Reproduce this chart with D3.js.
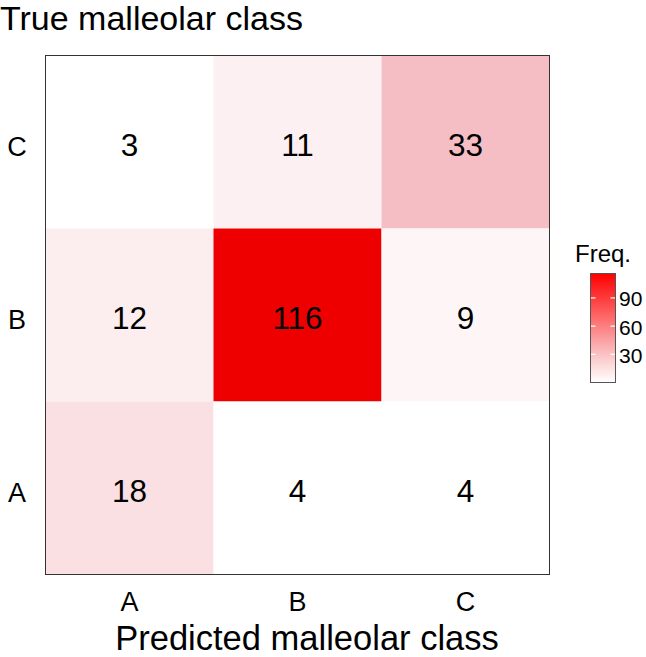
<!DOCTYPE html>
<html>
<head>
<meta charset="utf-8">
<script src="https://cdn.jsdelivr.net/npm/d3@7"></script>
<style>
  body { margin: 0; background: #fff; }
  svg { display: block; font-family: "Liberation Sans", Arial, sans-serif; }
</style>
</head>
<body>
<div id="chart"></div>
<script>
// confusion matrix data
const predicted = ['A', 'B', 'C'];
const trueClass = ['C', 'B', 'A'];   // top to bottom
const freqC = [3, 11, 33];
const freqB = [12, 116, 9];
const freqA = [18, 4, 4];
const legendTicks = [30, 60, 90];

const rows = { C: freqC, B: freqB, A: freqA };
const cells = [];
trueClass.forEach(t => {
    predicted.forEach((p, i) => cells.push({ pred: p, truth: t, n: rows[t][i] }));
});

const width = 646;
const height = 657;
const panel = { left: 45.5, right: 549.5, top: 55.5, bottom: 574.5 };

const svg = d3.select('#chart')
    .append('svg')
        .attr('width', width)
        .attr('height', height);

const x = d3.scaleBand()
    .domain(predicted)
    .range([panel.left, panel.right]);

const y = d3.scaleBand()
    .domain(trueClass)
    .range([panel.top, panel.bottom]);

const maxN = d3.max(cells, d => d.n);
const color = d3.scaleLinear()
    .domain([4.5, 33, maxN])
    .range(['#ffffff', '#f5bdc4', '#ee0000'])
    .clamp(true);

// tiles
svg.append('g')
    .selectAll('rect')
    .data(cells)
    .join('rect')
        .attr('x', d => x(d.pred))
        .attr('y', d => y(d.truth))
        .attr('width', x.bandwidth())
        .attr('height', y.bandwidth())
        .attr('fill', d => color(d.n));

// counts
svg.append('g')
    .selectAll('text')
    .data(cells)
    .join('text')
        .attr('x', d => x(d.pred) + x.bandwidth() / 2)
        .attr('y', d => y(d.truth) + y.bandwidth() / 2 + 3)
        .attr('text-anchor', 'middle')
        .attr('dominant-baseline', 'central')
        .attr('font-size', '31.5px')
        .attr('fill', '#000')
        .text(d => d.n);

// panel border
svg.append('rect')
    .attr('x', panel.left)
    .attr('y', panel.top)
    .attr('width', panel.right - panel.left)
    .attr('height', panel.bottom - panel.top)
    .attr('fill', 'none')
    .attr('stroke', '#333')
    .attr('stroke-width', 1);

// axes labels
svg.append('g')
    .selectAll('text')
    .data(predicted)
    .join('text')
        .attr('x', d => x(d) + x.bandwidth() / 2)
        .attr('y', 611)
        .attr('text-anchor', 'middle')
        .attr('font-size', '27px')
        .text(d => d);

svg.append('g')
    .selectAll('text')
    .data(trueClass)
    .join('text')
        .attr('x', 17)
        .attr('y', d => y(d) + y.bandwidth() / 2 + 5)
        .attr('text-anchor', 'middle')
        .attr('dominant-baseline', 'central')
        .attr('font-size', '27px')
        .text(d => d);

svg.append('text')
    .attr('x', 307)
    .attr('y', 650)
    .attr('text-anchor', 'middle')
    .attr('font-size', '34.5px')
    .text('Predicted malleolar class');

svg.append('text')
    .attr('x', 0)
    .attr('y', 29.5)
    .attr('font-size', '34px')
    .text('True malleolar class');

// legend
const lg = { left: 590.5, width: 25, top: 273.5, bottom: 382.5 };
const ly = d3.scaleLinear()
    .domain([0, maxN])
    .range([lg.bottom, lg.top]);

const legendColor = d3.scaleLinear()
    .domain([0, 30, maxN])
    .range(['#ffffff', '#fbc2c4', '#ff0000'])
    .clamp(true);

const defs = svg.append('defs');
const grad = defs.append('linearGradient')
    .attr('id', 'freqGrad')
    .attr('x1', 0).attr('y1', 1)
    .attr('x2', 0).attr('y2', 0);
grad.selectAll('stop')
    .data(d3.range(0, 1.0001, 0.05))
    .join('stop')
        .attr('offset', d => d)
        .attr('stop-color', d => legendColor(ly.invert(lg.bottom - d * (lg.bottom - lg.top))));

svg.append('text')
    .attr('x', 575)
    .attr('y', 261.5)
    .attr('font-size', '24px')
    .text('Freq.');

svg.append('rect')
    .attr('x', lg.left)
    .attr('y', lg.top)
    .attr('width', lg.width)
    .attr('height', lg.bottom - lg.top)
    .attr('fill', 'url(#freqGrad)')
    .attr('stroke', '#555')
    .attr('stroke-width', 1);

const lt = svg.append('g');
lt.selectAll('line.l')
    .data(legendTicks)
    .join('line')
        .attr('class', 'l')
        .attr('x1', lg.left + 0.5).attr('x2', lg.left + 5)
        .attr('y1', d => ly(d)).attr('y2', d => ly(d))
        .attr('stroke', '#fff').attr('stroke-width', 1.2);
lt.selectAll('line.r')
    .data(legendTicks)
    .join('line')
        .attr('class', 'r')
        .attr('x1', lg.left + lg.width - 5).attr('x2', lg.left + lg.width - 0.5)
        .attr('y1', d => ly(d)).attr('y2', d => ly(d))
        .attr('stroke', '#fff').attr('stroke-width', 1.2);
lt.selectAll('text')
    .data(legendTicks)
    .join('text')
        .attr('x', 619)
        .attr('y', d => ly(d) + 1)
        .attr('dominant-baseline', 'central')
        .attr('font-size', '21px')
        .text(d => d);
</script>
</body>
</html>
